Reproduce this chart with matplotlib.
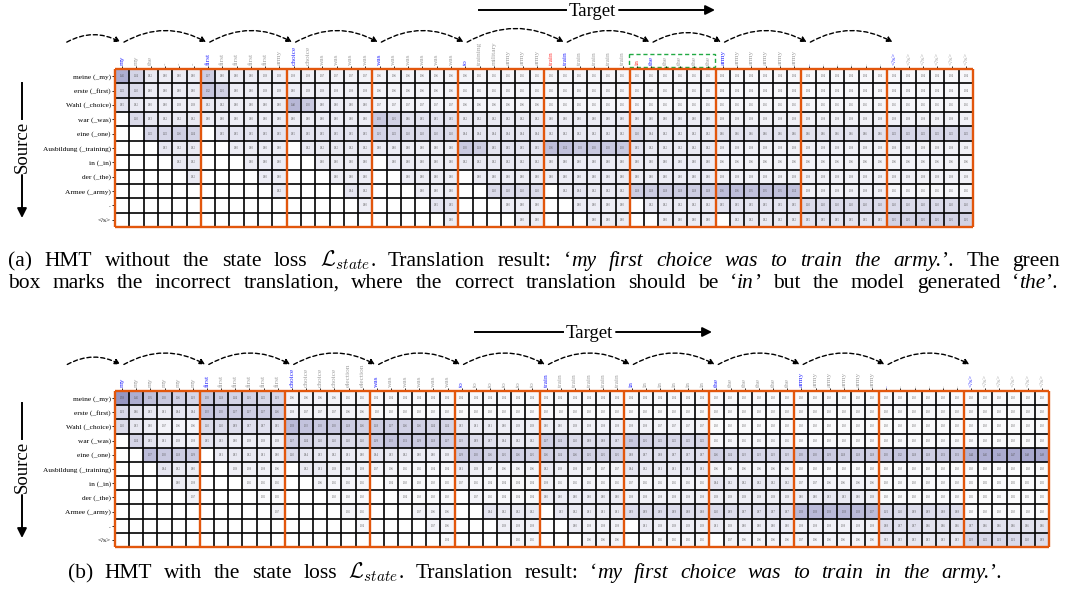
import numpy as np
import matplotlib.pyplot as plt
from matplotlib.colors import LinearSegmentedColormap
from matplotlib.patches import FancyArrowPatch, Rectangle

plt.rcParams['font.family'] = 'Liberation Serif'
plt.rcParams['mathtext.fontset'] = 'cm'

source = ["meine (_my)", "erste (_first)", "Wahl (_choice)", "war (_was)", "eine (_one)",
          "Ausbildung (_training)", "in (_in)", "der (_the)", "Armee (_army)", ".", "</s>"]

a_target = ["my", "my", "the", "-", "-", "-",
            "first", "first", "first", "first", "first", "army",
            "choice", "choice", "was", "was", "was", "was",
            "was", "was", "was", "was", "was", "was",
            "to", "training", "military", "army", "army", "army",
            "train", "train", "train", "train", "train", "train",
            "in", "the", "the", "the", "the", "the",
            "army", "army", "army", "army", "army", "army",
            ".", ".", ".", ".", ".", ".",
            "</s>", "</s>", "</s>", "</s>", "</s>", "</s>"]
a_picked = [0, 6, 12, 18, 24, 31, 37, 42, 48, 54]
a_wrong = [30, 36]

b_target = ["my", "my", "my", "my", "my", "my",
            "first", "first", "first", "first", "first", "first",
            "choice", "choice", "choice", "choice", "election", "election",
            "was", "was", "was", "was", "was", "was",
            "to", "to", "to", "to", "to", "to",
            "train", "train", "train", "train", "train", "train",
            "in", "in", "in", "in", "in", "in",
            "the", "the", "the", "the", "the", "the",
            "army", "army", "army", "army", "army", "army",
            ".", ".", ".", ".", ".", ".",
            "</s>", "</s>", "</s>", "</s>", "</s>", "</s>"]
b_picked = [0, 6, 12, 18, 24, 30, 36, 42, 48, 54, 60]

# attention values in hundredths, "--" = not yet read
a_rows = [
    "45 24 12 10 10 10 | 27 10 10 10 09 09 | 08 08 07 07 07 07 | 06 06 06 06 06 06 | 06 05 05 05 05 05 | 05 05 05 05 05 05 | 05 05 05 05 05 05 | 04 04 04 04 04 04 | 04 04 04 04 04 04 | 04 04 04 04 04 04",
    "22 20 10 10 10 10 | 32 25 10 10 09 09 | 10 09 09 08 08 08 | 06 06 06 06 06 06 | 05 05 05 05 05 05 | 05 05 05 05 05 05 | 05 05 05 05 05 05 | 04 04 04 04 04 04 | 04 04 04 04 04 04 | 04 04 04 04 04 04",
    "15 12 10 10 09 09 | 12 12 10 10 10 10 | 40 30 10 10 10 10 | 07 07 07 07 07 07 | 06 06 06 06 06 06 | 05 05 05 05 05 05 | 05 05 05 05 05 05 | 05 05 05 05 05 05 | 05 05 05 05 05 05 | 05 05 05 05 05 05",
    "-- 20 13 12 12 12 | 10 10 10 10 10 10 | 10 10 10 10 10 10 | 30 25 16 15 15 15 | 12 12 12 12 12 12 | 10 10 10 10 10 10 | 10 10 10 10 10 10 | 08 08 08 08 08 08 | 08 08 08 08 08 08 | 08 08 08 08 08 08",
    "-- -- 22 22 26 24 | -- 15 15 15 15 15 | 15 15 15 15 15 15 | 25 22 20 20 20 20 | 14 14 14 14 14 14 | 12 12 12 12 12 12 | 20 14 12 12 12 12 | 16 16 16 16 16 16 | 16 16 16 16 16 16 | 22 22 22 22 22 22",
    "-- -- -- 13 12 12 | -- -- 10 10 10 10 | -- 12 12 12 12 12 | 10 10 10 10 10 10 | 30 28 15 15 15 15 | 36 34 30 30 30 30 | 15 12 12 12 12 12 | 08 08 08 08 08 08 | 08 08 08 08 08 08 | 08 08 08 08 08 08",
    "-- -- -- -- 12 12 | -- -- -- 10 10 10 | -- -- 10 10 10 10 | -- 10 10 10 10 10 | 12 12 12 12 12 12 | 10 10 10 10 10 10 | 10 10 10 10 10 10 | 06 06 06 06 06 06 | 06 06 06 06 06 06 | 06 06 06 06 06 06",
    "-- -- -- -- -- 12 | -- -- -- -- 10 10 | -- -- -- 10 10 10 | -- -- 10 10 10 10 | -- 10 10 10 10 10 | 10 10 10 10 10 10 | 10 10 10 10 10 10 | 08 08 08 08 08 08 | 08 08 08 08 08 08 | 08 08 08 08 08 08",
    "-- -- -- -- -- -- | -- -- -- -- -- 12 | -- -- -- -- 14 12 | -- -- -- 10 10 10 | -- -- 20 20 20 20 | -- 12 14 12 12 12 | 28 28 28 28 28 28 | 36 36 35 35 35 34 | 08 08 08 08 08 08 | 05 05 05 05 05 05",
    "-- -- -- -- -- -- | -- -- -- -- -- -- | -- -- -- -- -- 10 | -- -- -- -- 15 15 | -- -- -- 10 10 10 | -- -- 10 10 10 10 | -- 12 12 12 12 12 | 15 15 15 15 15 15 | 20 20 20 20 20 20 | 20 20 20 20 20 20",
    "-- -- -- -- -- -- | -- -- -- -- -- -- | -- -- -- -- -- -- | -- -- -- -- -- 10 | -- -- -- -- 10 10 | -- -- -- 10 10 10 | -- -- 10 10 10 10 | -- 12 12 12 12 12 | 15 15 15 15 15 15 | 25 25 25 25 25 25",
]

b_rows = [
    "58 45 35 30 26 23 | 30 28 24 25 22 23 | 06 06 06 06 05 05 | 04 04 04 04 04 04 | 04 04 04 04 04 04 | 04 04 04 04 04 04 | 04 04 04 04 04 04 | 03 03 03 03 03 03 | 03 03 03 03 03 03 | 03 03 03 03 03 03 | 03 03 03 03 03 03",
    "21 16 13 11 14 14 | 33 30 27 27 27 26 | 08 07 07 07 06 06 | 03 03 03 03 03 03 | 03 03 03 03 03 03 | 03 03 03 03 03 03 | 03 03 03 03 03 03 | 03 03 03 03 03 03 | 03 03 03 03 03 03 | 03 03 03 03 03 03 | 03 03 03 03 03 03",
    "20 13 10 07 06 06 | 20 20 19 17 17 15 | 38 33 30 30 28 26 | 28 27 26 26 24 24 | 13 11 11 10 09 09 | 10 10 09 08 08 08 | 08 08 07 07 07 07 | 03 03 03 03 03 03 | 03 03 03 03 03 03 | 03 03 03 03 03 03 | 03 03 03 03 03 03",
    "-- 24 15 11 09 08 | 15 13 10 09 09 09 | 27 24 20 20 20 20 | 29 33 31 29 28 27 | 23 19 17 14 12 12 | 27 24 20 18 18 17 | 30 25 22 22 22 22 | 05 05 05 05 05 05 | 03 03 03 03 03 03 | 03 03 03 03 03 03 | 03 03 03 03 03 03",
    "-- -- 37 30 28 29 | -- 11 13 12 11 10 | 20 14 13 12 11 10 | 14 13 12 10 10 09 | 29 30 26 25 26 25 | 26 24 26 25 25 25 | 18 17 18 17 17 17 | 26 24 23 23 23 23 | 30 30 29 28 28 28 | 30 32 28 28 31 31 | 44 45 46 47 48 49",
    "-- -- -- 14 12 10 | -- -- 09 08 08 06 | -- 12 11 09 08 08 | 07 06 05 05 04 04 | 11 09 07 06 06 06 | 12 09 08 07 07 07 | 14 12 11 11 11 11 | 06 06 06 06 06 06 | 03 03 03 03 03 03 | 03 03 03 03 03 03 | 03 03 03 03 03 03",
    "-- -- -- -- 10 08 | -- -- -- 05 05 05 | -- -- 06 05 05 05 | -- 04 03 03 03 02 | 07 05 04 04 04 04 | 08 05 05 05 05 05 | 07 05 05 05 05 05 | 14 12 12 12 12 12 | 07 07 06 06 06 06 | 03 03 03 03 03 03 | 02 02 02 02 02 02",
    "-- -- -- -- -- 07 | -- -- -- -- 02 02 | -- -- -- 03 03 03 | -- -- 04 03 03 03 | -- 07 05 04 04 04 | 10 10 10 10 10 10 | 08 08 08 08 08 08 | 09 09 09 09 09 09 | 10 10 13 13 10 09 | 03 03 03 03 03 03 | 02 02 02 02 02 02",
    "-- -- -- -- -- -- | -- -- -- -- -- 07 | -- -- -- -- 05 05 | -- -- -- 07 06 06 | -- -- 14 12 12 12 | -- 13 12 11 11 11 | 19 19 19 19 18 18 | 20 19 17 17 17 17 | 38 38 38 38 38 37 | 21 20 19 19 18 18 | 03 03 03 03 03 03",
    "-- -- -- -- -- -- | -- -- -- -- -- -- | -- -- -- -- -- 04 | -- -- -- -- 07 06 | -- -- -- 09 08 08 | -- -- 10 08 08 08 | -- 11 09 09 09 09 | 11 09 10 10 10 10 | 08 08 08 08 08 08 | 18 17 17 16 16 16 | 17 16 16 16 16 16",
    "-- -- -- -- -- -- | -- -- -- -- -- -- | -- -- -- -- -- -- | -- -- -- -- -- 04 | -- -- -- -- 05 05 | -- -- -- 06 06 06 | -- -- 05 05 05 05 | -- 07 06 06 06 06 | 07 06 06 06 06 06 | 13 13 13 13 13 13 | 23 22 21 21 20 19",
]


def parse(rows):
    return np.array([[np.nan if t == '--' else int(t) / 100
                      for t in r.replace('|', ' ').split()] for r in rows])


cmap = LinearSegmentedColormap.from_list('att', ['#ffffff', '#4a4a98'])
orange = '#e2560c'

fig = plt.figure(figsize=(10.67, 5.9), dpi=100)


def panel(rect, vals, labels, picked, wrong):
    ax = fig.add_axes(rect)
    nr, nc = vals.shape
    ax.pcolormesh(np.ma.masked_invalid(vals), cmap=cmap, vmin=0, vmax=1)
    for i in range(nr):
        for j in range(nc):
            if not np.isnan(vals[i, j]):
                ax.text(j + .5, i + .5, f'{vals[i, j]:.2f}', fontsize=2, color='#555555',
                        ha='center', va='center')
    ax.vlines(np.arange(nc + 1), 0, nr, color='k', lw=1.2)
    ax.hlines(np.arange(nr + 1), 0, nc, color='k', lw=1.2)
    ax.vlines(np.arange(0, nc + 1, 6), 0, nr, color=orange, lw=1.7, clip_on=False)
    ax.hlines([0, nr], 0, nc, color=orange, lw=1.7, clip_on=False)
    ax.set_xlim(0, nc)
    ax.set_ylim(nr, 0)
    ax.set_frame_on(False)
    ax.xaxis.tick_top()
    ax.set_xticks(np.arange(nc) + .5)
    ax.set_xticklabels(labels, rotation=90, fontsize=5.3)
    ax.set_yticks(np.arange(nr) + .5)
    ax.set_yticklabels(source, fontsize=5.3)
    ax.tick_params(length=2, width=0.6, pad=1)
    for j, t in enumerate(ax.get_xticklabels()):
        t.set_color('#2b2bff' if j in picked else '#ff3b3b' if j in wrong else '#a0a0a0')
    # decoding steps
    stops = [-3.5] + [p + .5 for p in picked]
    for a, b in zip(stops[:-1], stops[1:]):
        ax.add_patch(FancyArrowPatch((a, -1.8), (b, -1.8), connectionstyle='arc3,rad=-0.29',
                                     arrowstyle='-|>', mutation_scale=8, lw=1.0, ls=(0, (3, 2)),
                                     color='k', shrinkA=1.5, shrinkB=1.5, clip_on=False))
    return ax


ax_a = panel([115 / 1067, 1 - 227 / 590, 858 / 1067, 158 / 590], parse(a_rows), a_target, a_picked, a_wrong)
ax_a.add_patch(Rectangle((35.95, -1.05), 6.0, 0.9, fill=False, ec='#22aa44', lw=1.0,
                         ls=(0, (3, 2)), clip_on=False))
ax_b = panel([115 / 1067, 1 - 547 / 590, 934 / 1067, 156 / 590], parse(b_rows), b_target, b_picked, [])

over = fig.add_axes([0, 0, 1, 1])
over.set_xlim(0, 1067)
over.set_ylim(590, 0)
over.axis('off')


def target_arrow(y, x0, xt, x1):
    over.plot([x0, xt - 26], [y, y], color='k', lw=1.4)
    over.text(xt, y + 1.5, 'Target', fontsize=13.5, ha='center', va='center')
    over.annotate('', xy=(x1, y), xytext=(xt + 27, y),
                  arrowprops=dict(arrowstyle='-|>', color='k', lw=1.4, mutation_scale=14,
                                  shrinkA=0, shrinkB=0))


def source_arrow(x, y0, yt, y1):
    over.plot([x, x], [y0, yt - 28], color='k', lw=1.4)
    over.text(x, yt, 'Source', fontsize=13.5, ha='center', va='center', rotation=90)
    over.annotate('', xy=(x, y1), xytext=(x, yt + 28),
                  arrowprops=dict(arrowstyle='-|>', color='k', lw=1.4, mutation_scale=14,
                                  shrinkA=0, shrinkB=0))


target_arrow(10, 479, 592, 715)
target_arrow(332, 475, 589, 712)
source_arrow(22, 83, 147, 218)
source_arrow(22, 403, 467, 538)


def to_words(segs):
    out = [[]]
    for txt, st in segs:
        for i, b in enumerate(txt.split(' ')):
            if i > 0:
                out.append([])
            if b:
                out[-1].append((b, st))
    return [w for w in out if w]


def caption(segs, x0, y, size, width):
    r = fig.canvas.get_renderer()
    items = []
    for w in to_words(segs):
        items.append([(t, t.get_window_extent(r).width) for t in
                      [over.text(0, y, s, fontsize=size, style=st, va='baseline') for s, st in w]])
    wsum = [sum(p[1] for p in it) for it in items]
    space = (width - sum(wsum)) / (len(items) - 1)
    x = x0
    for it in items:
        for t, w in it:
            t.set_x(x)
            x += w
        x += space


L = r'$\mathcal{L}_{state}$'
fs = 15.5
caption([("(a) HMT without the state loss ", 'normal'), (L, 'normal'),
         (". Translation result: \u2018", 'normal'),
         ("my first choice was to train the army.", 'italic'),
         ("\u2019. The green", 'normal')], 8, 266, fs, 1052)
caption([("box marks the incorrect translation, where the correct translation should be \u2018", 'normal'),
         ("in", 'italic'), ("\u2019 but the model generated \u2018", 'normal'),
         ("the", 'italic'), ("\u2019.", 'normal')], 8, 288, fs, 1050)
caption([("(b) HMT with the state loss ", 'normal'), (L, 'normal'),
         (". Translation result: \u2018", 'normal'),
         ("my first choice was to train in the army.", 'italic'),
         ("\u2019.", 'normal')], 68, 578, fs, 934)

fig.savefig('out.png', dpi=100)
